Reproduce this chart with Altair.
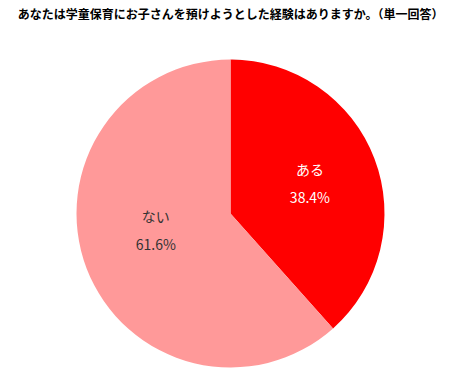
import altair as alt
import pandas as pd

title_text = "あなたは学童保育にお子さんを預けようとした経験はありますか。（単一回答）"
categories = ["ある", "ない"]
values = [38.4, 61.6]
pct_labels = ["38.4%", "61.6%"]
colors = ["#FF0000", "#FF9999"]
text_colors = ["#FFFFFF", "#333333"]

df = pd.DataFrame({
    "category": categories,
    "value": values,
    "order": [0, 1],
    "label": [c + "\n" + p for c, p in zip(categories, pct_labels)],
})

CX, CY, R = 230.5, 213.5, 154
FONT = "Noto Sans CJK JP"

base = alt.Chart(df).encode(
    theta=alt.Theta("value:Q", stack=True),
    order=alt.Order("order:Q"),
)

shadow = alt.Chart(pd.DataFrame({"v": [1]})).mark_arc(
    fill="#000000", opacity=0.12, outerRadius=R + 2
).encode(theta="v:Q", x=alt.value(CX + 1.5), y=alt.value(CY + 2))
shadow2 = alt.Chart(pd.DataFrame({"v": [1]})).mark_arc(
    fill="#000000", opacity=0.12, outerRadius=R + 0.5
).encode(theta="v:Q", x=alt.value(CX + 1), y=alt.value(CY + 1.5))

pie = base.mark_arc(outerRadius=R, stroke=None).encode(
    color=alt.Color("category:N", scale=alt.Scale(domain=categories, range=colors), legend=None),
    x=alt.value(CX), y=alt.value(CY),
)

lab1 = base.mark_text(
    radius=85, dy=-12, fontSize=14, font=FONT, lineBreak="\n", lineHeight=28,
).encode(
    text="label:N", x=alt.value(CX), y=alt.value(CY),
    color=alt.Color("category:N", scale=alt.Scale(domain=categories, range=text_colors), legend=None),
    opacity=alt.condition(alt.datum.category == categories[0], alt.value(1), alt.value(0)),
)
lab2 = base.mark_text(
    radius=80, dy=-24, fontSize=14, font=FONT, lineBreak="\n", lineHeight=28,
).encode(
    text="label:N", x=alt.value(CX), y=alt.value(CY),
    color=alt.Color("category:N", scale=alt.Scale(domain=categories, range=text_colors), legend=None),
    opacity=alt.condition(alt.datum.category == categories[1], alt.value(1), alt.value(0)),
)

title = alt.Chart(pd.DataFrame({"t": [title_text]})).mark_text(
    fontSize=12, fontWeight="bold", font=FONT, color="#000000", align="center", baseline="middle"
).encode(text="t:N", x=alt.value(230.5), y=alt.value(15))

chart = alt.layer(shadow, shadow2, pie, lab1, lab2, title).properties(
    width=457, height=377, padding=0, autosize="none"
).configure_view(stroke=None).resolve_scale(color="independent")

chart.save("out.html", embed_options={"renderer": "svg", "actions": False})
